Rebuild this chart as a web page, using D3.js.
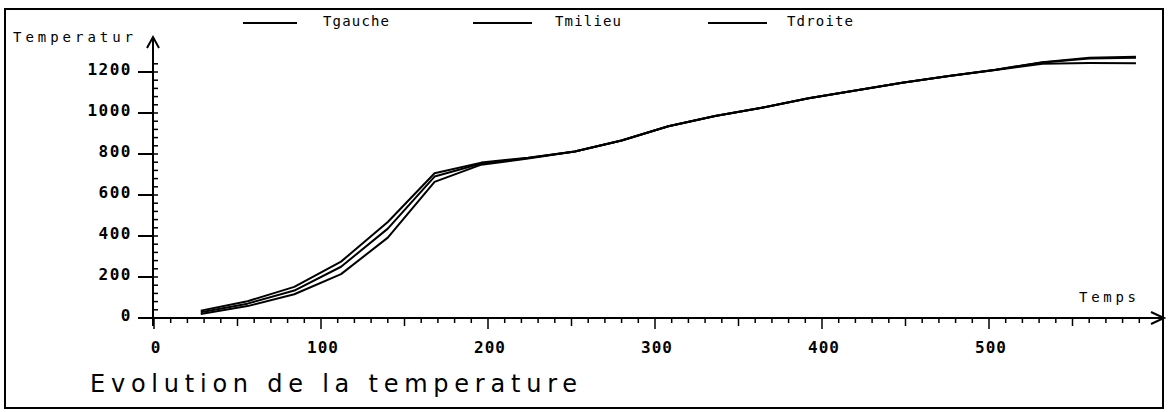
<!DOCTYPE html>
<html>
<head>
<meta charset="utf-8">
<script src="https://cdn.jsdelivr.net/npm/d3@7/dist/d3.min.js"></script>
<style>
  html, body { margin: 0; padding: 0; background: #fff; }
  svg { display: block; }
  .lbl { font-family: "DejaVu Sans Mono", monospace; font-size: 16px; font-weight: bold; fill: #000; }
</style>
</head>
<body>
<svg id="chart" width="1168" height="412"></svg>
<script>
// Temperature readings at three positions over time
const temps   = [28, 56, 84, 112, 140, 168, 196, 224, 252, 280, 308, 336, 364, 392, 420, 448, 476, 504, 532, 560, 588];
const tGauche = [36, 82, 152, 275, 468, 706, 758, 782, 812, 866, 935, 985, 1026, 1072, 1110, 1148, 1181, 1211, 1248, 1270, 1274];
const tMilieu = [28, 70, 134, 250, 436, 690, 754, 780, 812, 866, 935, 985, 1026, 1072, 1110, 1148, 1181, 1211, 1246, 1266, 1270];
const tDroite = [20, 58, 116, 214, 392, 664, 748, 778, 812, 866, 935, 985, 1026, 1072, 1110, 1148, 1181, 1210, 1240, 1244, 1243];

const seriesNames = ["Tgauche", "Tmilieu", "Tdroite"];
const xTickLabels = [0, 100, 200, 300, 400, 500];
const yTickLabels = [0, 200, 400, 600, 800, 1000, 1200];

const svg = d3.select("#chart");

const x = d3.scaleLinear().domain([0, 600]).range([154, 1156]);
const y = d3.scaleLinear().domain([0, 1200]).range([318, 72]);

// outer frame
svg.append("rect")
  .attr("x", 5).attr("y", 9).attr("width", 1158).attr("height", 399)
  .attr("fill", "none").attr("stroke", "#000").attr("stroke-width", 2);

const axisColor = "#000";

// y axis line with arrow
svg.append("line")
  .attr("x1", x(0) - 1).attr("x2", x(0) - 1)
  .attr("y1", y(0) + 8).attr("y2", 37)
  .attr("stroke", axisColor).attr("stroke-width", 2);
svg.append("path")
  .attr("d", `M${x(0) - 7},48 L${x(0) - 1},37 L${x(0) + 5},48`)
  .attr("fill", "none").attr("stroke", axisColor).attr("stroke-width", 2);

// x axis line with arrow
svg.append("line")
  .attr("x1", x(0) - 8).attr("x2", 1164)
  .attr("y1", y(0)).attr("y2", y(0))
  .attr("stroke", axisColor).attr("stroke-width", 2);
svg.append("path")
  .attr("d", `M1151,${y(0) - 6} L1164,${y(0)} L1151,${y(0) + 6}`)
  .attr("fill", "none").attr("stroke", axisColor).attr("stroke-width", 2);

// x ticks: every 10, longer every 50 and 100
const xMinor = d3.range(0, 591, 10);
svg.append("g").selectAll("line").data(xMinor).join("line")
  .attr("x1", d => x(d)).attr("x2", d => x(d))
  .attr("y1", y(0))
  .attr("y2", d => y(0) + (d % 100 === 0 ? 11 : d % 50 === 0 ? 8 : 5))
  .attr("stroke", axisColor).attr("stroke-width", 1.5);

// x tick labels
svg.append("g").selectAll("text").data(xTickLabels).join("text")
  .attr("class", "lbl")
  .attr("x", d => x(d) + 2).attr("y", y(0) + 35)
  .attr("text-anchor", "middle")
  .attr("letter-spacing", "1px")
  .text(d => d);

// y minor ticks (right side of axis)
const yMinor = d3.range(40, 1241, 40);
svg.append("g").selectAll("line").data(yMinor).join("line")
  .attr("x1", x(0) - 1).attr("x2", x(0) + 4)
  .attr("y1", d => y(d)).attr("y2", d => y(d))
  .attr("stroke", axisColor).attr("stroke-width", 1.5);

// y major ticks (left side) and labels
svg.append("g").selectAll("line").data(yTickLabels).join("line")
  .attr("x1", x(0) - 16).attr("x2", x(0) - 1)
  .attr("y1", d => y(d)).attr("y2", d => y(d))
  .attr("stroke", axisColor).attr("stroke-width", 2);
svg.append("g").selectAll("text").data(yTickLabels).join("text")
  .attr("class", "lbl")
  .attr("x", 132).attr("y", d => y(d) + 3)
  .attr("text-anchor", "end")
  .attr("letter-spacing", "1.5px")
  .text(d => d);

// axis titles
svg.append("text").attr("class", "lbl")
  .attr("x", 13).attr("y", 42)
  .attr("textLength", 120).attr("lengthAdjust", "spacing")
  .style("font-size", "14px")
  .style("font-weight", "normal")
  .text("Temperatur");
svg.append("text").attr("class", "lbl")
  .attr("x", 1079).attr("y", 302)
  .attr("textLength", 57).attr("lengthAdjust", "spacing")
  .style("font-size", "14px")
  .style("font-weight", "normal")
  .text("Temps");

// series lines
const seriesValues = [tGauche, tMilieu, tDroite];
const line = d3.line()
  .x((d, i) => x(temps[i]))
  .y(d => y(d));
svg.append("g").selectAll("path").data(seriesValues).join("path")
  .attr("d", d => line(d))
  .attr("fill", "none")
  .attr("stroke", "#000")
  .attr("stroke-width", 2)
  .attr("stroke-linejoin", "round");

// legend across the top
const legendLine = [[243, 297], [473, 532], [708, 767]];
const legendText = [323, 555, 787];
const lg = svg.append("g");
seriesNames.forEach((name, i) => {
  lg.append("line")
    .attr("x1", legendLine[i][0]).attr("x2", legendLine[i][1])
    .attr("y1", 23).attr("y2", 23)
    .attr("stroke", "#000").attr("stroke-width", 2);
  lg.append("text").attr("class", "lbl")
    .attr("x", legendText[i]).attr("y", 26)
    .attr("textLength", 66).attr("lengthAdjust", "spacing")
    .style("font-size", "14px")
    .style("font-weight", "normal")
    .text(name);
});

// chart title
svg.append("text")
  .attr("x", 90).attr("y", 392)
  .attr("textLength", 487).attr("lengthAdjust", "spacing")
  .style("font-family", "'DejaVu Sans', sans-serif")
  .style("font-size", "24px")
  .style("font-weight", "normal")
  .attr("fill", "#000")
  .text("Evolution de la temperature");
</script>
</body>
</html>
